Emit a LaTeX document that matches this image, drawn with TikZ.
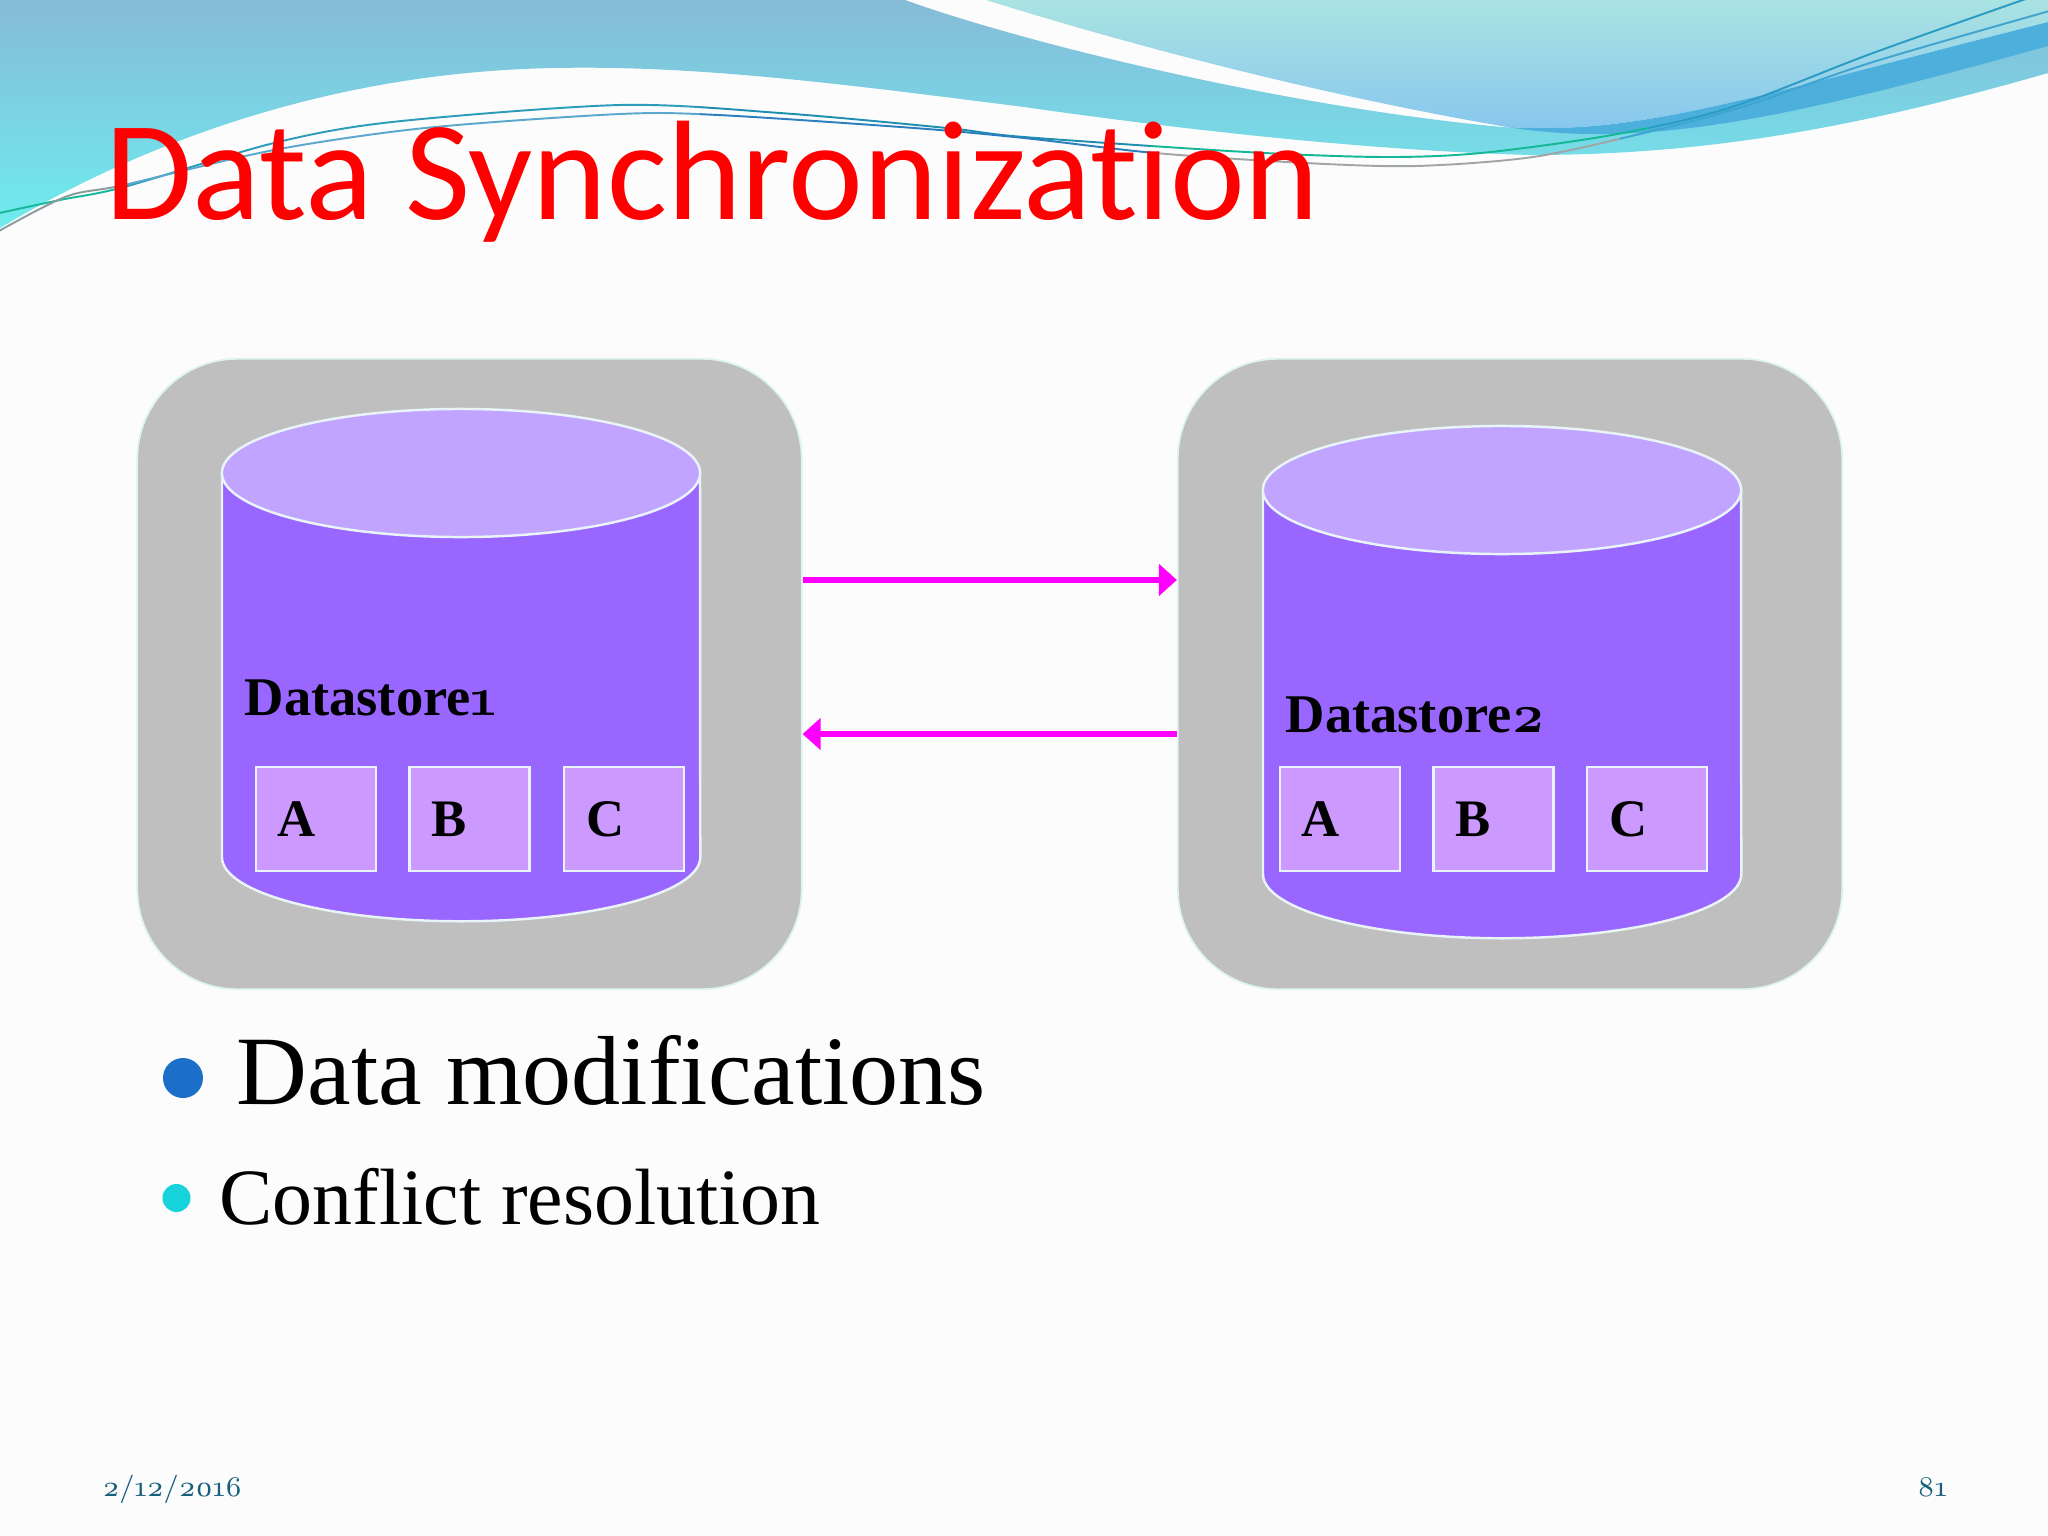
\documentclass[tikz,border=0pt]{standalone}
\usepackage{fontspec}
\usetikzlibrary{shapes.geometric,arrows.meta,positioning}
\setmainfont{Liberation Serif}
\newfontfamily\titlefont[Ligatures=NoCommon]{Carlito}
\newfontfamily\oldnums[Numbers=OldStyle]{Latin Modern Roman}
\definecolor{pagebg}{HTML}{FCFCFD}
\definecolor{boxgray}{HTML}{BFBFBF}
\definecolor{boxline}{HTML}{DDF3F0}
\definecolor{cylbody}{HTML}{9966FF}
\definecolor{cyltop}{HTML}{C1A4FF}
\definecolor{cellfill}{HTML}{CC99FF}
\definecolor{cellline}{HTML}{E8F4F8}
\definecolor{arrowpink}{HTML}{FF00FF}
\definecolor{footblue}{HTML}{17607C}
\definecolor{bandtop}{HTML}{86BBD8}
\definecolor{bandlow}{HTML}{6EECEE}
\definecolor{skytop}{HTML}{AAE3E2}
\definecolor{skylow}{HTML}{86C6EE}
\definecolor{darkband}{HTML}{4DB0DC}
\definecolor{dotblue}{HTML}{1B6FC8}
\definecolor{dotcyan}{HTML}{16D2DA}
\tikzset{
  storebox/.style={draw=boxline, fill=boxgray, line width=0.5pt, rounded corners=1cm,
    minimum width=6.64cm, minimum height=6.3cm, inner sep=0pt},
  cylside/.style={draw=cellline, fill=cylbody, line width=0.7pt},
  cylend/.style={ellipse, draw=cellline, fill=cyltop, line width=0.7pt,
    minimum width=4.78cm, minimum height=1.28cm, inner sep=0pt},
  cell/.style={draw=cellline, fill=cellfill, line width=0.7pt, minimum width=1.2cm, minimum height=1.04cm,
    inner sep=0pt, text width=0.76cm, align=left, font=\fontsize{15}{18}\selectfont\bfseries},
  storelabel/.style={anchor=base west, inner sep=0pt, font=\fontsize{15.5}{18}\selectfont\bfseries},
  syncarrow/.style={draw=arrowpink, line width=1.85pt, -{Triangle[length=0.18cm,width=0.31cm]}},
  bodytext/.style={anchor=base west, inner sep=0pt},
  foot/.style={anchor=base west, inner sep=0pt, text=footblue, font=\fontsize{8.1}{12}\oldnums},
  dot/.style={circle, inner sep=0pt}
}
\newcommand{\waveone}{plot[smooth] coordinates {(-10,215) (60,200) (124,187) (274,143) (392,122) (620,105) (780,113) (947,128) (1024,137) (1246,152) (1383,157) (1481,153) (1612,135) (1729,108) (1873,53) (2040,-6)}}
\newcommand{\wavetwo}{plot[smooth] coordinates {(-10,236) (65,197) (124,185) (274,150) (425,128) (620,114) (718,115) (914,128) (1024,138) (1155,153) (1305,163) (1416,166) (1533,157) (1644,133) (1742,107) (1873,62) (2060,8)}}
\begin{document}
\begin{tikzpicture}[x=0.01cm, y=-0.01cm]
    \useasboundingbox (0,0) rectangle (2048,1536);
    \fill[pagebg] (0,0) rectangle (2048,1536);

    \shade[top color=bandtop, bottom color=bandlow]
      (0,0) -- (905,0) .. controls (1030,45) and (1300,110) .. (1514,128)
      .. controls (1640,142) and (1740,110) .. (2048,23) -- (2048,73)
      .. controls (1850,130) and (1700,155) .. (1530,155)
      .. controls (1350,150) and (1150,125) .. (1024,107)
      .. controls (850,85) and (700,65) .. (555,68)
      .. controls (320,72) and (130,150) .. (0,228) -- cycle;
    \shade[top color=skytop, bottom color=skylow]
      (986,0) .. controls (1130,45) and (1320,95) .. (1507,127)
      .. controls (1640,135) and (1740,100) .. (2048,22) -- (2048,0) -- cycle;
    \fill[darkband]
      (1507,127) .. controls (1640,135) and (1740,100) .. (2048,22) -- (2048,46)
      .. controls (1800,115) and (1650,150) .. (1507,127) -- cycle;

    \foreach \xa/\xb/\wc in {-20/120/18B89C, 120/700/2C9DB8, 700/1150/1F8FB0, 1150/1650/14B896, 1650/2060/2A9CC4}{
      \begin{scope}
        \clip (\xa,-10) rectangle (\xb,260);
        \definecolor{wavec}{HTML}{\wc}
        \draw[wavec, line width=0.55pt] \waveone;
      \end{scope}
    }
    \foreach \xa/\xb/\wc in {-20/120/8C9C9C, 120/700/5AA8CC, 700/1150/2A7FBC, 1150/1620/A0A6A6, 1620/2060/3FA4D0}{
      \begin{scope}
        \clip (\xa,-10) rectangle (\xb,260);
        \definecolor{wavec}{HTML}{\wc}
        \draw[wavec, line width=0.55pt] \wavetwo;
      \end{scope}
    }

    \node[anchor=base west, inner sep=0pt, text=red, font=\fontsize{40.3}{48}\titlefont] (title) at (105,219) {Data Synchronization};

    \node[storebox] (store1) at (469.5,674) {};
    \node[storebox] (store2) at (1510,674) {};

    \foreach \n/\cx/\cy in {1/461/473, 2/1502/490}{
      \coordinate (west\n) at (\cx-239,\cy);
      \coordinate (east\n) at (\cx+239,\cy);
      \draw[cylside] (west\n) -- ++(0,-3.84cm)
        arc[start angle=180, end angle=360, x radius=2.39cm, y radius=0.64cm] -- (east\n) -- cycle;
      \node[cylend] (top\n) at (\cx,\cy) {};
    }

    \node[storelabel] (label1) at (244,715) {Datastore{\oldnums 1}};
    \node[storelabel] (label2) at (1285,732) {Datastore{\oldnums 2}};

    \node[cell] (a1) at (316,819) {A};
    \node[cell, right=0.31cm of a1] (b1) {B};
    \node[cell, right=0.32cm of b1] (c1) {C};
    \node[cell] (a2) at (1340,819) {A};
    \node[cell, right=0.31cm of a2] (b2) {B};
    \node[cell, right=0.31cm of b2] (c2) {C};

    \draw[syncarrow] ([yshift=0.94cm]store1.east) -- ([yshift=0.94cm]store2.west);
    \draw[syncarrow] ([yshift=-0.60cm]store2.west) -- ([yshift=-0.60cm]store1.east);

    \node[dot, fill=dotblue, minimum size=0.40cm] (dot1) at (183,1078) {};
    \node[bodytext, font=\fontsize{27.9}{32}\selectfont] (mods) at (236,1104) {Data modifications};
    \node[dot, fill=dotcyan, minimum size=0.28cm] (dot2) at (176.5,1198) {};
    \node[bodytext, font=\fontsize{22.7}{26}\selectfont] (conflict) at (219,1224.5) {Conflict resolution};

    \node[foot] (date) at (102,1496) {2/12/2016};
    \node[foot] (page) at (1917,1496) {81};
\end{tikzpicture}
\end{document}
